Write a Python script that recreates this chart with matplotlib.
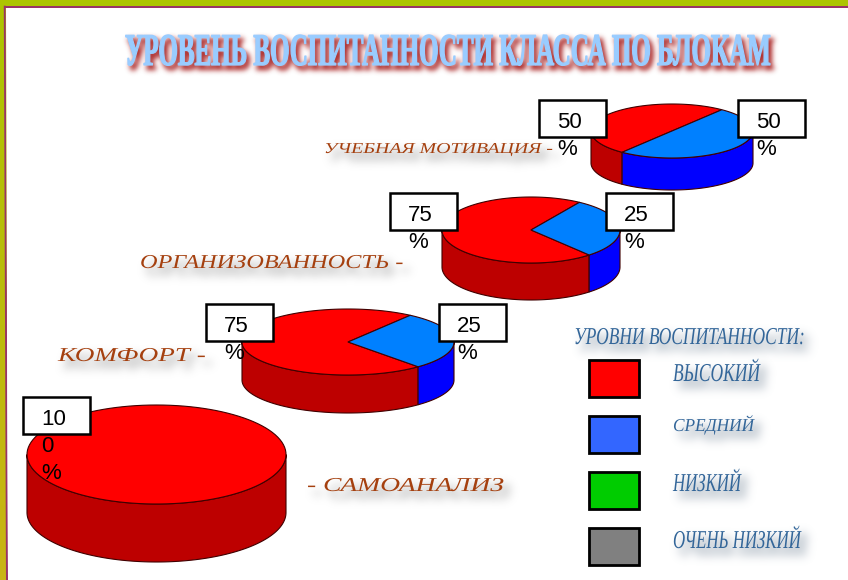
import numpy as np
from matplotlib import pyplot as plt
from matplotlib import patheffects
from matplotlib.colors import to_rgb
from matplotlib.patches import Rectangle
from matplotlib.transforms import Affine2D

W, H = 848, 580

#chart values
blocks = ['УЧЕБНАЯ МОТИВАЦИЯ -', 'ОРГАНИЗОВАННОСТЬ -', 'КОМФОРТ -', '- САМОАНАЛИЗ']
high_labels = ['50\n%', '75\n%', '75\n%', '10\n0\n%']
medium_labels = ['50\n%', '25\n%', '25\n%', None]
#share of each slice as it is drawn in the picture (percent)
high_drawn = [50, 70.5, 71.5, 100]
medium_drawn = [50, 29.5, 28.5, 0]
levels = ['ВЫСОКИЙ', 'СРЕДНИЙ', 'НИЗКИЙ', 'ОЧЕНЬ НИЗКИЙ']
level_colors = ['#ff0000', '#3366ff', '#00cc00', '#808080']
title = 'УРОВЕНЬ ВОСПИТАННОСТИ КЛАССА ПО БЛОКАМ'
legend_title = 'УРОВНИ ВОСПИТАННОСТИ:'

#layout: cx, cy, rx, ry, depth, angle where the red slice starts
pie_layout = [(672, 131, 81, 27, 32, 52),
              (531, 230, 89, 33, 37, 57),
              (348, 342, 106, 33, 38, 54),
              (156.5, 454.5, 129.5, 49.5, 58, 90)]
high_boxes = [(539, 100), (390, 193), (206, 304), (23, 397)]
medium_boxes = [(738, 100), (606, 193), (439, 304)]
block_text = [(324, 552, 153, 10), (140, 402, 268, 13), (58, 205, 361, 13), (307, 503, 491, 13)]
level_text = [(673, 760, 381, 17), (673, 754, 431, 12), (673, 741, 491, 17), (673, 801, 548, 17)]
swatch_y = [360, 416, 472, 528]


def blur_filter(color, sigma, strength):
    #gaussian blur of what was drawn, for the text shadows
    r = int(3 * sigma)
    kernel = np.exp(-0.5 * (np.arange(-r, r + 1) / sigma) ** 2)
    kernel /= kernel.sum()

    def process(img, dpi):
        a = np.pad(img, ((r, r), (r, r), (0, 0)))
        alpha = a[:, :, 3]
        alpha = np.apply_along_axis(np.convolve, 0, alpha, kernel, mode='same')
        alpha = np.apply_along_axis(np.convolve, 1, alpha, kernel, mode='same')
        out = np.zeros_like(a)
        out[:, :, :3] = to_rgb(color)
        out[:, :, 3] = np.clip(alpha * strength, 0, 1)
        return out, -r, -r
    return process


class Soft(patheffects.AbstractPathEffect):
    """stretches text and puts a blurred shadow behind it"""
    def __init__(self, x0, y0, sx, sy, shadow, sigma, strength, offset, fat):
        super().__init__()
        self.x0, self.y0, self.sx, self.sy = x0, y0, sx, sy
        self.shadow, self.shift, self.fat = shadow, offset, fat
        self.sigma, self.strength = sigma, strength

    def draw_path(self, renderer, gc, tpath, affine, rgbFace=None):
        stretch = Affine2D().translate(-self.x0, -self.y0).scale(self.sx, self.sy).translate(self.x0, self.y0)
        a = affine + stretch
        renderer.start_filter()
        gc0 = renderer.new_gc()
        gc0.copy_properties(gc)
        gc0.set_foreground(self.shadow)
        gc0.set_linewidth(1.5)
        renderer.draw_path(gc0, tpath, a + Affine2D().translate(*self.shift), to_rgb(self.shadow))
        gc0.restore()
        renderer.stop_filter(blur_filter(self.shadow, self.sigma, self.strength))
        gc1 = renderer.new_gc()
        gc1.copy_properties(gc)
        gc1.set_foreground(rgbFace)
        gc1.set_linewidth(self.fat)
        renderer.draw_path(gc1, tpath, a, rgbFace)
        gc1.restore()


fig = plt.figure(figsize=(W / 100, H / 100), dpi=100, facecolor='white')
ax = fig.add_axes([0, 0, 1, 1])
ax.set_xlim(0, W)
ax.set_ylim(H, 0)
ax.axis('off')


def fitted_text(s, x0, x1, base, cap, color, shadow, sigma, strength, weight='normal', style='italic',
                offset=(6, -7), fat=0.0):
    #cap = height of capitals in px, text is stretched to run from x0 to x1
    size = cap / 0.66 * 0.72
    t = ax.text(x0, base, s, family='Liberation Serif', fontsize=size, color=color,
                weight=weight, style=style, ha='left', va='baseline', zorder=2)
    width = t.get_window_extent(fig.canvas.get_renderer()).width
    sx, sy = (x1 - x0) / width, 1
    if sx < 1:
        #narrow text: smaller font pulled up, so its box stays inside the figure
        t.set_fontsize(size * sx)
        sx, sy = 1, 1 / sx
    px, py = ax.transData.transform((x0, base))
    t.set_path_effects([Soft(px, py, sx, sy, shadow, sigma, strength, offset, fat)])
    return t


def arc(cx, cy, rx, ry, a0, a1):
    t = np.radians(np.linspace(a0, a1, 120))
    return cx + rx * np.cos(t), cy - ry * np.sin(t)


def draw_pie(layout, shares):
    cx, cy, rx, ry, depth, start = layout
    colors = [('#ff0000', '#bd0000'), ('#0080ff', '#0000ff')]
    a0 = start
    #side wall first, only the front part of the disk shows
    for share, (top, side) in zip(shares, colors):
        a1 = a0 + share * 3.6
        for low, high in [(180, 360), (540, 720)]:
            b0, b1 = max(a0, low), min(a1, high)
            if b1 > b0:
                x, y = arc(cx, cy, rx, ry, b0, b1)
                ax.fill(np.r_[x, x[::-1]], np.r_[y, y[::-1] + depth], fc=side, ec='#400000', lw=0.8, zorder=3)
        a0 = a1
    a0 = start
    for share, (top, side) in zip(shares, colors):
        if share == 0:
            continue
        a1 = a0 + share * 3.6
        x, y = arc(cx, cy, rx, ry, a0, a1)
        if share < 100:
            x, y = np.r_[cx, x], np.r_[cy, y]
        ax.fill(x, y, fc=top, ec='#400000', lw=0.8, zorder=3)
        a0 = a1


def draw_box(x, y, s):
    ax.add_patch(Rectangle((x, y), 67, 37, fc='white', ec='black', lw=1.8, zorder=5))
    ax.text(x + 18, y + 12, s, family='Liberation Sans', fontsize=16, color='black',
            ha='left', va='top', linespacing=1.36, zorder=6)


#frame, the left side widens a little towards the bottom
grad = np.linspace(0, 1, 100)[:, None, None]
top_col = np.array([173, 196, 0]) / 255
bottom_col = np.array([201, 180, 20]) / 255
ax.imshow(top_col + grad * (bottom_col - top_col), extent=(0, 7, H, 0), aspect='auto', zorder=1)
ax.set_xlim(0, W)
ax.set_ylim(H, 0)
ax.add_patch(Rectangle((0, 0), W, 5.7, fc='#adc400', ec='none', zorder=1))
ax.add_patch(Rectangle((3.8, 5.7), W, 2, fc='#993366', ec='none', zorder=1))
ax.fill([3.8, 5.6, 8, 6], [5.7, 5.7, H, H], fc='#993366', ec='none', zorder=1)
ax.fill([5.6, 10, 10, 8], [7.7, 7.7, H, H], fc='white', ec='none', zorder=1)

fitted_text(title, 125, 772, 65, 30, '#99ccff', '#a82020', 2.6, 1.0, weight='bold', style='normal',
            offset=(3, -4), fat=0.9)

for s, (x0, x1, base, cap) in zip(blocks, block_text):
    fitted_text(s, x0, x1, base, cap, '#a5400f', '#888888', 4.5, 0.45)

for layout, high, medium in zip(pie_layout, high_drawn, medium_drawn):
    draw_pie(layout, (high, medium))

for (x, y), s in zip(high_boxes, high_labels):
    draw_box(x, y, s)
for (x, y), s in zip(medium_boxes, medium_labels):
    draw_box(x, y, s)

fitted_text(legend_title, 574, 805, 344, 16, '#336699', '#778899', 4.5, 0.45)
for s, (x0, x1, base, cap) in zip(levels, level_text):
    fitted_text(s, x0, x1, base, cap, '#336699', '#778899', 4.5, 0.45)
for y, c in zip(swatch_y, level_colors):
    ax.add_patch(Rectangle((589, y), 50, 37, fc=c, ec='black', lw=2, zorder=3))

fig.savefig('out.png', dpi=100)
